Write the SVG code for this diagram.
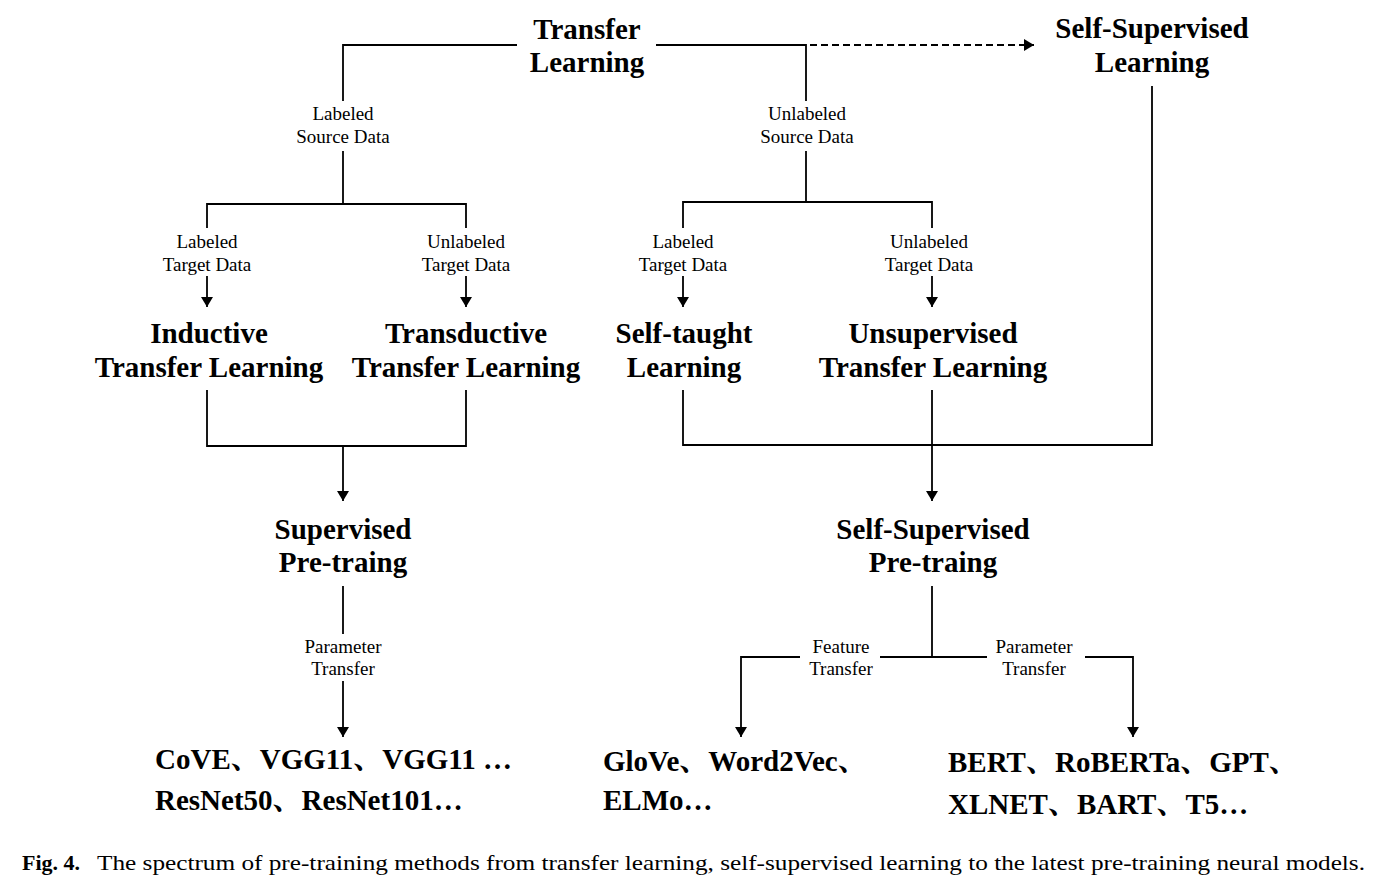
<svg xmlns="http://www.w3.org/2000/svg" width="1377" height="888" viewBox="0 0 1377 888">
<defs>
<marker id="ah" viewBox="0 0 10 12" refX="10" refY="6" markerWidth="10" markerHeight="12" markerUnits="userSpaceOnUse" orient="auto">
<path d="M0,0 L10,6 L0,12 Z" fill="#000"/>
</marker>
<style>
.n{font-family:"Liberation Serif","Noto Sans CJK SC",serif;font-weight:bold;font-size:29px;fill:#000;text-anchor:middle}
.m{font-family:"Liberation Serif","Noto Serif CJK SC","Noto Sans CJK SC",serif;font-weight:bold;font-size:29px;fill:#000}
.l{font-family:"Liberation Serif",serif;font-size:19px;fill:#000;text-anchor:middle}
.c{font-family:"Liberation Serif",serif;font-size:22px;fill:#000}
.s{fill:none;stroke:#000;stroke-width:1.8}
.d{fill:none;stroke:#000;stroke-width:1.8;stroke-dasharray:7 4}
</style>
</defs>
<rect width="1377" height="888" fill="#fff"/>
<g id="connectors">
<polyline class="s" points="517,45 343,45 343,101"/>
<polyline class="s" points="343,151 343,204"/>
<polyline class="s" points="207,228 207,204 466,204 466,228"/>
<line class="s" x1="207" y1="276" x2="207" y2="307" marker-end="url(#ah)"/>
<line class="s" x1="466" y1="276" x2="466" y2="307" marker-end="url(#ah)"/>
<polyline class="s" points="656,45 806,45 806,101"/>
<line class="d" x1="656" y1="45" x2="1034" y2="45" marker-end="url(#ah)"/>
<polyline class="s" points="806,151 806,202"/>
<polyline class="s" points="683,228 683,202 932,202 932,228"/>
<line class="s" x1="683" y1="276" x2="683" y2="307" marker-end="url(#ah)"/>
<line class="s" x1="932" y1="276" x2="932" y2="307" marker-end="url(#ah)"/>
<polyline class="s" points="207,390 207,446 466,446 466,390"/>
<line class="s" x1="343" y1="446" x2="343" y2="501" marker-end="url(#ah)"/>
<polyline class="s" points="683,390 683,445 1152,445 1152,86"/>
<line class="s" x1="932" y1="390" x2="932" y2="501" marker-end="url(#ah)"/>
<line class="s" x1="343" y1="586" x2="343" y2="634"/>
<line class="s" x1="343" y1="681" x2="343" y2="737" marker-end="url(#ah)"/>
<line class="s" x1="932" y1="586" x2="932" y2="657"/>
<line class="s" x1="880" y1="657" x2="987" y2="657"/>
<polyline class="s" points="800,657 741,657 741,737" marker-end="url(#ah)"/>
<polyline class="s" points="1085,657 1133,657 1133,737" marker-end="url(#ah)"/>
</g>
<g id="labels">
<text class="l" x="343" y="120">Labeled</text>
<text class="l" x="343" y="143">Source Data</text>
<text class="l" x="807" y="120">Unlabeled</text>
<text class="l" x="807" y="143">Source Data</text>
<text class="l" x="207" y="248">Labeled</text>
<text class="l" x="207" y="271">Target Data</text>
<text class="l" x="466" y="248">Unlabeled</text>
<text class="l" x="466" y="271">Target Data</text>
<text class="l" x="683" y="248">Labeled</text>
<text class="l" x="683" y="271">Target Data</text>
<text class="l" x="929" y="248">Unlabeled</text>
<text class="l" x="929" y="271">Target Data</text>
<text class="l" x="343" y="653">Parameter</text>
<text class="l" x="343" y="675">Transfer</text>
<text class="l" x="841" y="653">Feature</text>
<text class="l" x="841" y="675">Transfer</text>
<text class="l" x="1034" y="653">Parameter</text>
<text class="l" x="1034" y="675">Transfer</text>
</g>
<g id="transfer-learning"><text class="n" x="587" y="39">Transfer</text><text class="n" x="587" y="72">Learning</text></g>
<g id="self-supervised-learning"><text class="n" x="1152" y="38">Self-Supervised</text><text class="n" x="1152" y="72">Learning</text></g>
<g id="inductive"><text class="n" x="209" y="343">Inductive</text><text class="n" x="209" y="377">Transfer Learning</text></g>
<g id="transductive"><text class="n" x="466" y="343">Transductive</text><text class="n" x="466" y="377">Transfer Learning</text></g>
<g id="self-taught"><text class="n" x="684" y="343">Self-taught</text><text class="n" x="684" y="377">Learning</text></g>
<g id="unsupervised"><text class="n" x="933" y="343">Unsupervised</text><text class="n" x="933" y="377">Transfer Learning</text></g>
<g id="supervised-pretraining"><text class="n" x="343" y="539">Supervised</text><text class="n" x="343" y="572">Pre-traing</text></g>
<g id="self-supervised-pretraining"><text class="n" x="933" y="539">Self-Supervised</text><text class="n" x="933" y="572">Pre-traing</text></g>
<g id="supervised-models"><text class="m" x="155" y="769">CoVE、VGG11、VGG11 …</text><text class="m" x="155" y="810">ResNet50、ResNet101…</text></g>
<g id="feature-models"><text class="m" x="603" y="771">GloVe、Word2Vec、</text><text class="m" x="603" y="810">ELMo…</text></g>
<g id="parameter-models"><text class="m" x="948" y="772">BERT、RoBERTa、GPT、</text><text class="m" x="948" y="814">XLNET、BART、T5…</text></g>
<g id="caption">
<text class="c" x="22" y="870" font-weight="bold">Fig. 4.</text>
<text class="c" x="97" y="870" textLength="1268" lengthAdjust="spacingAndGlyphs">The spectrum of pre-training methods from transfer learning, self-supervised learning to the latest pre-training neural models.</text>
</g>
</svg>
